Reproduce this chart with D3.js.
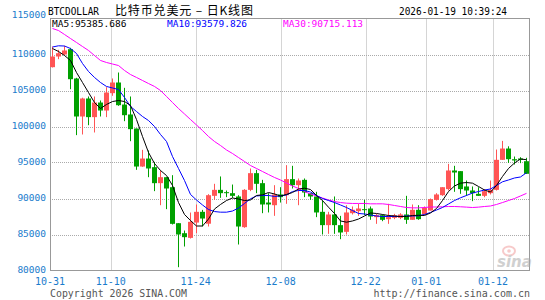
<!DOCTYPE html>
<html lang="zh">
<head>
  <meta charset="UTF-8">
  <title>BTCDOLLAR 日K线图</title>
  <script src="https://d3js.org/d3.v7.min.js"></script>
  <style>
    body { margin: 0; background: #fff; }
    svg { display: block; }
  </style>
</head>
<body>
  <div id="chart"></div>

  <script>
    // daily candles, 10-31 .. 01-18
    const dates = [
      "10-31",
      "11-01","11-02","11-03","11-04","11-05","11-06","11-07","11-08","11-09","11-10",
      "11-11","11-12","11-13","11-14","11-15","11-16","11-17","11-18","11-19","11-20",
      "11-21","11-22","11-23","11-24","11-25","11-26","11-27","11-28","11-29","11-30",
      "12-01","12-02","12-03","12-04","12-05","12-06","12-07","12-08","12-09","12-10",
      "12-11","12-12","12-13","12-14","12-15","12-16","12-17","12-18","12-19","12-20",
      "12-21","12-22","12-23","12-24","12-25","12-26","12-27","12-28","12-29","12-30","12-31",
      "01-01","01-02","01-03","01-04","01-05","01-06","01-07","01-08","01-09","01-10",
      "01-11","01-12","01-13","01-14","01-15","01-16","01-17","01-18"
    ];

    const open = [
      108240,109720,110000,110740,106670,101390,103890,101300,103330,102220,
      104630,106110,103050,101670,99720,94440,95550,94350,92130,92960,
      91570,86570,85180,84530,86660,88150,86500,90370,91200,90880,
      90740,90280,86020,91200,93520,92130,89440,89070,90560,90460,
      92690,91850,92590,90740,90280,88150,86300,87780,86300,85370,
      87960,88240,88520,88610,87410,87680,87130,87310,87310,87780,
      87040,88430,87780,88330,89810,90460,91300,93890,93800,91670,
      91110,90650,90370,90740,91200,95370,96940,95460,95560,95180
    ];
    const high = [
      111100,110650,111200,110930,106760,104000,104170,104170,103610,105460,
      106670,107500,105370,104170,99720,96760,96670,95090,93890,92960,
      93240,86570,85550,88050,89170,88420,90600,92040,93060,91110,
      91940,90460,91300,94170,93980,92590,90740,91850,91570,94630,
      94540,92780,92780,90740,90930,89720,88150,90280,87590,89070,
      88890,89260,89810,88890,87870,87780,89260,87870,87960,90370,
      89170,89070,88890,90000,90740,91570,94810,94540,93800,92500,
      91670,91570,91300,92500,96800,98000,97250,95830,95740,95650
    ];
    const low = [
      108200,109350,109900,105180,98800,98890,100180,99170,101390,101300,
      104260,102870,100740,97960,93980,94400,92960,91020,89070,88520,
      86390,80460,83330,84440,85180,86110,86110,89820,90090,90190,
      90090,83610,85930,91020,90740,87960,88060,87590,89440,89260,
      91390,89070,90190,89820,87410,85000,85090,85090,84350,85000,
      87780,87590,87690,87040,86480,86850,86480,87130,87130,86480,
      87040,87040,87780,88330,89720,90370,91110,90930,90650,90370,
      89630,90370,90180,90560,91110,95370,94950,94720,94910,93430
    ];
    const close = [
      109720,110180,110560,106570,101390,103890,101300,103330,102220,104720,
      106110,102960,101570,99630,94440,95550,94170,92130,92960,91390,
      86480,85000,84630,86760,88150,87220,90460,91200,90740,90740,
      90370,86110,91200,93520,92040,89170,89170,90560,90190,92690,
      91850,92500,90830,90280,88060,86300,87780,86300,85280,88060,
      88430,88610,88430,87500,87680,87040,87410,87680,87780,87040,
      88430,87130,88700,89910,90560,91570,93890,93610,91300,91110,
      90740,90370,91020,91200,95370,96940,95460,95280,95370,93430
    ];

    const ma5 = [
      110830,110420,109860,109170,107500,106110,104720,103330,102500,103060,
      103470,103610,103470,102920,100970,98610,96390,94860,93890,93190,
      91810,89440,87780,86940,86180,86180,87150,88540,89170,89720,
      90070,89930,89720,89790,90420,90510,90830,90630,90350,90560,
      90830,91320,91430,91250,90420,89720,88790,87920,86880,86710,
      86880,87150,87570,87990,87920,87780,87640,87570,87500,87500,
      87640,87670,87640,87990,88610,89720,90970,91740,92130,92220,
      92130,91670,91180,90900,91810,93060,94170,94930,95490,95386
    ];
    const ma10 = [
      111040,111210,111180,110830,110140,108750,107640,106810,106110,105560,
      105350,105140,104030,102780,102080,101390,100830,100000,98890,97920,
      95830,94170,92500,90560,89790,89100,88470,88190,88100,88100,
      88260,88680,89310,89960,90350,90420,90420,90280,90350,90490,
      90970,91110,91110,90900,90420,90000,89720,89440,89100,88750,
      88330,87920,87850,87710,87570,87500,87500,87500,87500,87570,
      87570,87600,87780,88060,88400,88750,89240,89720,90100,90420,
      90760,90970,91180,91320,91810,92320,92570,92850,92990,93580
    ];
    const ma30 = [
      113610,113330,112780,112220,111670,111110,110560,109860,109170,108890,
      108680,108470,107780,107220,106810,106390,105970,105560,105000,104170,
      103330,102500,101740,100970,100210,99440,98610,97920,97360,96740,
      96250,95690,95140,94580,94170,93750,93330,92920,92570,92150,
      91740,91390,90970,90630,90350,90070,89790,89580,89440,89350,
      89310,89310,89310,89260,89260,89260,89170,89030,88890,88750,
      88700,88700,88750,88820,88820,88850,88890,88890,88850,88800,
      88750,88800,88890,88960,89170,89440,89720,90000,90350,90715
    ];

    const xTickLabels = ["10-31", "11-10", "11-24", "12-08", "12-22", "01-01", "01-12"];
    const yTickValues = [80000, 85000, 90000, 95000, 100000, 105000, 110000, 115000];
    const maLabels = ["MA5:95385.686", "MA10:93579.826", "MA30:90715.113"];

    const W = 545, H = 300;
    const plotL = 50, plotR = 530, plotT = 18.5, plotB = 270.5;
    const upColor = "#ff5555", downColor = "#00a000";
    const axisBlue = "#1a7ccc";
    const mono = "'DejaVu Sans Mono', monospace";

    const svg = d3.select("#chart").append("svg")
      .attr("width", W).attr("height", H);

    const x = d3.scaleBand().domain(dates).range([plotL, plotR]).padding(0);
    // the date ticks are spread a little differently from the candles
    const xTick = d3.scaleLinear().domain([0, dates.length - 1]).range([plotL, plotR - 0.5]);
    const y = d3.scaleLinear().domain([80000, 115000]).range([plotB, plotT]);

    // grid
    const grid = svg.append("g").attr("stroke", "#aaa").attr("stroke-dasharray", "1,1");
    yTickValues.filter(v => v > 80000 && v < 115000).forEach(v => {
      grid.append("line")
        .attr("x1", plotL).attr("x2", plotR - 0.5)
        .attr("y1", Math.round(y(v)) + 0.5).attr("y2", Math.round(y(v)) + 0.5);
    });
    xTickLabels.slice(1).forEach(lbl => {
      const px = Math.round(xTick(dates.indexOf(lbl))) + 0.5;
      grid.append("line").attr("x1", px).attr("x2", px).attr("y1", plotT).attr("y2", plotB);
    });

    // frame
    svg.append("rect")
      .attr("x", plotL + 0.5).attr("y", plotT)
      .attr("width", plotR - plotL - 1).attr("height", plotB - plotT)
      .attr("fill", "none").attr("stroke", "#999");

    // y labels
    svg.append("g").selectAll("text").data(yTickValues).enter().append("text")
      .attr("x", 46)
      .attr("y", d => d === 115000 ? y(d) - 0.5 : y(d) + 2.5)
      .attr("text-anchor", "end")
      .attr("font-family", mono).attr("font-size", "9.5px")
      .attr("fill", axisBlue)
      .text(d => d);

    // x labels
    svg.append("g").selectAll("text").data(xTickLabels).enter().append("text")
      .attr("x", d => xTick(dates.indexOf(d)))
      .attr("y", 285)
      .attr("text-anchor", "middle")
      .attr("font-family", mono).attr("font-size", "10px")
      .attr("fill", axisBlue)
      .text(d => d);

    // candles
    const candles = dates.map((d, i) => ({
      date: d, o: open[i], h: high[i], l: low[i], c: close[i]
    }));
    const cg = svg.append("g");
    cg.selectAll("line").data(candles).enter().append("line")
      .attr("x1", d => x(d.date) + 2.5).attr("x2", d => x(d.date) + 2.5)
      .attr("y1", d => y(d.h)).attr("y2", d => y(d.l))
      .attr("stroke", d => d.c >= d.o ? upColor : downColor)
      .attr("stroke-width", 1);
    cg.selectAll("rect").data(candles).enter().append("rect")
      .attr("x", d => x(d.date))
      .attr("width", 5)
      .attr("y", d => y(Math.max(d.o, d.c)))
      .attr("height", d => Math.max(1, Math.abs(y(d.o) - y(d.c))))
      .attr("fill", d => d.c >= d.o ? upColor : downColor);

    // moving averages
    const maLine = d3.line()
      .x((d, i) => x(dates[i]) + 2.5)
      .y(d => y(d));
    [[ma30, "#ff00ff"], [ma10, "#0000ff"], [ma5, "#000000"]].forEach(([s, col]) => {
      svg.append("path").datum(s)
        .attr("d", maLine)
        .attr("fill", "none")
        .attr("stroke", col)
        .attr("stroke-width", 1);
    });

    // header
    svg.append("text").attr("x", 48).attr("y", 15)
      .attr("font-family", mono).attr("font-size", "11px")
      .attr("textLength", 51).attr("lengthAdjust", "spacingAndGlyphs")
      .text("BTCDOLLAR");
    svg.append("text").attr("x", 115).attr("y", 15)
      .attr("font-family", "'Noto Sans CJK SC', sans-serif").attr("font-size", "12px")
      .attr("textLength", 138).attr("lengthAdjust", "spacing")
      .text("比特币兑美元 – 日K线图");
    svg.append("text").attr("x", 399).attr("y", 15)
      .attr("font-family", mono).attr("font-size", "10px")
      .attr("textLength", 108).attr("lengthAdjust", "spacingAndGlyphs")
      .text("2026-01-19 10:39:24");

    const maPos = [52, 167, 283];
    const maCols = ["#000000", "#0000ff", "#ff00ff"];
    maLabels.forEach((t, i) => {
      svg.append("text").attr("x", maPos[i]).attr("y", 27)
        .attr("font-family", mono).attr("font-size", "9.5px")
        .attr("fill", maCols[i])
        .text(t);
    });

    // footer
    svg.append("text").attr("x", 50).attr("y", 297)
      .attr("font-family", mono).attr("font-size", "10px").attr("fill", "#555")
      .attr("textLength", 137).attr("lengthAdjust", "spacingAndGlyphs")
      .text("Copyright 2026 SINA.COM");
    svg.append("text").attr("x", 530).attr("y", 297)
      .attr("text-anchor", "end")
      .attr("font-family", mono).attr("font-size", "10px").attr("fill", "#555")
      .text("http://finance.sina.com.cn");

    // sina watermark
    const wm = svg.append("g").attr("opacity", 0.55);
    wm.append("ellipse").attr("cx", 509).attr("cy", 251).attr("rx", 6).attr("ry", 4.5)
      .attr("fill", "none").attr("stroke", "#f2a0a0").attr("stroke-width", 2);
    wm.append("circle").attr("cx", 509).attr("cy", 251).attr("r", 1.8).attr("fill", "#f2a0a0");
    wm.append("text").attr("x", 497).attr("y", 267)
      .attr("font-family", "'DejaVu Sans', sans-serif").attr("font-size", "15px")
      .attr("font-style", "italic").attr("font-weight", "bold")
      .attr("fill", "#aaa")
      .text("sina");
  </script>
</body>
</html>
